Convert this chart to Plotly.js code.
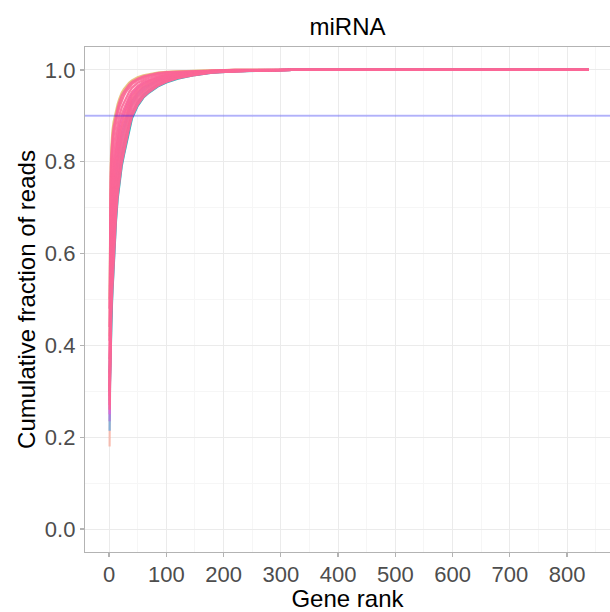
<!DOCTYPE html>
<html>
<head>
<meta charset="utf-8">
<script src="https://cdn.plot.ly/plotly-3.0.1.min.js"></script>
<style>html,body{margin:0;padding:0;background:#fff;}#chart{width:610px;height:612px;}</style>
</head>
<body>
<div id="chart"></div>
<script>
// Gene rank positions (shared by all samples)
const ranks = [1,2,3,4,5,6,8,10,12,15,18,22,26,30,35,40,50,60,70,85,100,120,150,180,220,270,320,838];

// Cumulative fraction of reads per sample
const tanA   = [0.50,0.70,0.79,0.83,0.853,0.868,0.887,0.90,0.91,0.925,0.937,0.95,0.958,0.965,0.972,0.977,0.984,0.988,0.991,0.994,0.996,0.997,0.998,0.999,1,1,1,1];
const tanB   = [0.42,0.63,0.74,0.79,0.82,0.84,0.866,0.883,0.896,0.912,0.925,0.94,0.95,0.958,0.966,0.972,0.98,0.985,0.989,0.993,0.995,0.997,0.998,0.999,1,1,1,1];
const cyanA  = [0.30,0.36,0.42,0.46,0.49,0.52,0.58,0.63,0.67,0.72,0.755,0.79,0.815,0.84,0.87,0.895,0.922,0.94,0.951,0.964,0.973,0.981,0.989,0.994,0.997,0.999,1,1];
const cyanB  = [0.34,0.41,0.47,0.51,0.545,0.575,0.625,0.67,0.705,0.75,0.782,0.815,0.84,0.86,0.885,0.905,0.93,0.946,0.956,0.968,0.976,0.984,0.99,0.995,0.998,0.999,1,1];
const purple = [0.235,0.52,0.59,0.63,0.655,0.677,0.718,0.75,0.778,0.812,0.837,0.862,0.88,0.897,0.916,0.932,0.95,0.962,0.969,0.978,0.984,0.988,0.993,0.996,0.998,0.999,1,1];
const blue   = [0.214,0.48,0.55,0.59,0.617,0.642,0.688,0.725,0.754,0.792,0.819,0.846,0.865,0.884,0.906,0.924,0.944,0.956,0.965,0.975,0.981,0.987,0.992,0.996,0.998,0.999,1,1];
const peach  = [0.18,0.55,0.625,0.665,0.69,0.712,0.75,0.779,0.802,0.833,0.855,0.878,0.894,0.909,0.926,0.94,0.956,0.966,0.973,0.981,0.986,0.99,0.994,0.997,0.998,0.999,1,1];
const magenta= [0.25,0.58,0.66,0.70,0.726,0.747,0.78,0.806,0.826,0.853,0.873,0.894,0.908,0.921,0.936,0.948,0.962,0.971,0.977,0.983,0.988,0.992,0.995,0.997,0.999,1,1,1];

const pink1  = [0.48,0.686,0.775,0.815,0.839,0.854,0.875,0.889,0.90,0.917,0.93,0.944,0.952,0.96,0.968,0.974,0.981,0.986,0.989,0.993,0.995,0.996,0.998,0.999,1,1,1,1];
const pink11 = [0.44,0.666,0.753,0.793,0.817,0.833,0.856,0.873,0.886,0.905,0.919,0.934,0.944,0.953,0.962,0.969,0.978,0.983,0.987,0.991,0.994,0.995,0.997,0.998,1,1,1,1];
const pink2  = [0.30,0.632,0.716,0.756,0.78,0.798,0.826,0.846,0.862,0.884,0.901,0.918,0.929,0.94,0.952,0.961,0.972,0.978,0.983,0.988,0.991,0.994,0.996,0.998,0.999,1,1,1];
const pink3  = [0.41,0.598,0.679,0.719,0.744,0.764,0.795,0.819,0.838,0.863,0.882,0.902,0.915,0.927,0.941,0.952,0.965,0.974,0.979,0.985,0.989,0.992,0.995,0.998,0.999,1,1,1];
const pink4  = [0.26,0.564,0.642,0.682,0.708,0.729,0.764,0.792,0.814,0.843,0.864,0.886,0.901,0.915,0.931,0.944,0.959,0.969,0.975,0.982,0.987,0.991,0.994,0.997,0.999,1,1,1];
const pink5  = [0.37,0.53,0.605,0.645,0.672,0.694,0.734,0.765,0.79,0.823,0.846,0.87,0.887,0.903,0.921,0.936,0.953,0.964,0.971,0.979,0.985,0.989,0.994,0.997,0.998,1,1,1];
const pink6  = [0.33,0.496,0.568,0.608,0.635,0.659,0.703,0.738,0.766,0.802,0.828,0.854,0.872,0.89,0.911,0.928,0.947,0.959,0.967,0.976,0.982,0.987,0.993,0.996,0.998,0.999,1,1];
const pink7  = [0.29,0.462,0.531,0.571,0.599,0.624,0.672,0.711,0.742,0.782,0.81,0.838,0.858,0.878,0.901,0.92,0.941,0.954,0.963,0.973,0.98,0.986,0.992,0.996,0.998,0.999,1,1];
const pink8  = [0.28,0.428,0.494,0.534,0.563,0.59,0.641,0.684,0.718,0.761,0.791,0.822,0.844,0.865,0.89,0.911,0.934,0.95,0.959,0.97,0.978,0.984,0.991,0.995,0.998,0.999,1,1];
const pink9  = [0.31,0.394,0.457,0.497,0.526,0.555,0.611,0.657,0.694,0.741,0.773,0.806,0.829,0.853,0.88,0.903,0.928,0.945,0.955,0.967,0.975,0.983,0.99,0.995,0.997,0.999,1,1];
const pink10 = [0.27,0.37,0.431,0.471,0.501,0.53,0.589,0.638,0.677,0.726,0.76,0.795,0.819,0.844,0.873,0.898,0.924,0.941,0.952,0.965,0.974,0.982,0.989,0.994,0.997,0.999,1,1];

const threshold = 0.9;
const xTicks = [0,100,200,300,400,500,600,700,800];
const yTicks = [0,0.2,0.4,0.6,0.8,1.0];

// styling (separate from data)
const PINK = 'rgba(251,102,150,0.9)';
const groups = [
  {y: tanA, c: 'rgba(226,184,100,0.8)'},
  {y: tanB, c: 'rgba(230,190,120,0.7)'},
  {y: cyanA, c: 'rgba(0,180,190,0.9)'},
  {y: cyanB, c: 'rgba(20,170,185,0.85)'},
  {y: peach, c: 'rgba(248,150,130,0.55)'},
  {y: blue, c: 'rgba(90,170,230,0.7)'},
  {y: purple, c: 'rgba(170,120,220,0.8)'},
  {y: magenta, c: 'rgba(230,100,215,0.8)'},
  {y: pink1, c: PINK}, {y: pink11, c: PINK}, {y: pink2, c: PINK}, {y: pink3, c: PINK},
  {y: pink4, c: PINK}, {y: pink5, c: PINK}, {y: pink6, c: PINK}, {y: pink7, c: PINK},
  {y: pink8, c: PINK}, {y: pink9, c: PINK}, {y: pink10, c: PINK}
];

const traces = groups.map((g, i) => ({
  type: 'scatter', mode: 'lines', x: ranks, y: g.y,
  line: {color: g.c, width: 2.3}, showlegend: false, hoverinfo: 'x+y',
  name: 'sample ' + (i + 1)
}));

const FONT = 'Liberation Sans, Arial, Helvetica, sans-serif';
const layout = {
  width: 610, height: 612,
  margin: {l: 85, r: 0, t: 47, b: 60},
  paper_bgcolor: '#ffffff', plot_bgcolor: '#ffffff',
  font: {family: FONT, color: '#000'},
  title: {text: 'miRNA', font: {size: 24, color: '#000', family: FONT},
          x: 0.5, xref: 'paper', xanchor: 'center', y: 1 - 27/612, yref: 'container', yanchor: 'middle'},
  xaxis: {
    range: [-42, 875], tickmode: 'array', tickvals: xTicks, ticktext: xTicks.map(String),
    showgrid: true, gridcolor: '#EBEBEB', gridwidth: 1,
    minor: {dtick: 50, tick0: 0, showgrid: true, gridcolor: '#F6F6F6', gridwidth: 1},
    zeroline: false, showline: true, linecolor: '#B3B3B3', linewidth: 1.2, mirror: true,
    ticks: 'outside', ticklen: 4, tickcolor: '#B3B3B3', tickwidth: 1.2,
    ticklabelstandoff: -2,
    tickfont: {size: 22, color: '#4D4D4D', family: FONT},
    title: {text: 'Gene rank', font: {size: 24, color: '#000', family: FONT}, standoff: 0}
  },
  yaxis: {
    range: [-0.05, 1.05], tickmode: 'array', tickvals: yTicks, ticktext: yTicks.map(v => v.toFixed(1)),
    showgrid: true, gridcolor: '#EBEBEB', gridwidth: 1,
    minor: {dtick: 0.1, tick0: 0, showgrid: true, gridcolor: '#F6F6F6', gridwidth: 1},
    zeroline: false, showline: true, linecolor: '#B3B3B3', linewidth: 1.2, mirror: false,
    ticks: 'outside', ticklen: 4, tickcolor: '#B3B3B3', tickwidth: 1.2,
    tickfont: {size: 22, color: '#4D4D4D', family: FONT},
    title: {text: 'Cumulative fraction of reads', font: {size: 24, color: '#000', family: FONT}, standoff: 2}
  },
  shapes: [{type: 'line', xref: 'paper', x0: 0, x1: 1, yref: 'y', y0: threshold, y1: threshold,
            line: {color: 'rgba(0,0,255,0.28)', width: 2}, layer: 'above'}]
};

Plotly.newPlot('chart', traces, layout, {displayModeBar: false, staticPlot: true});
</script>
</body>
</html>
